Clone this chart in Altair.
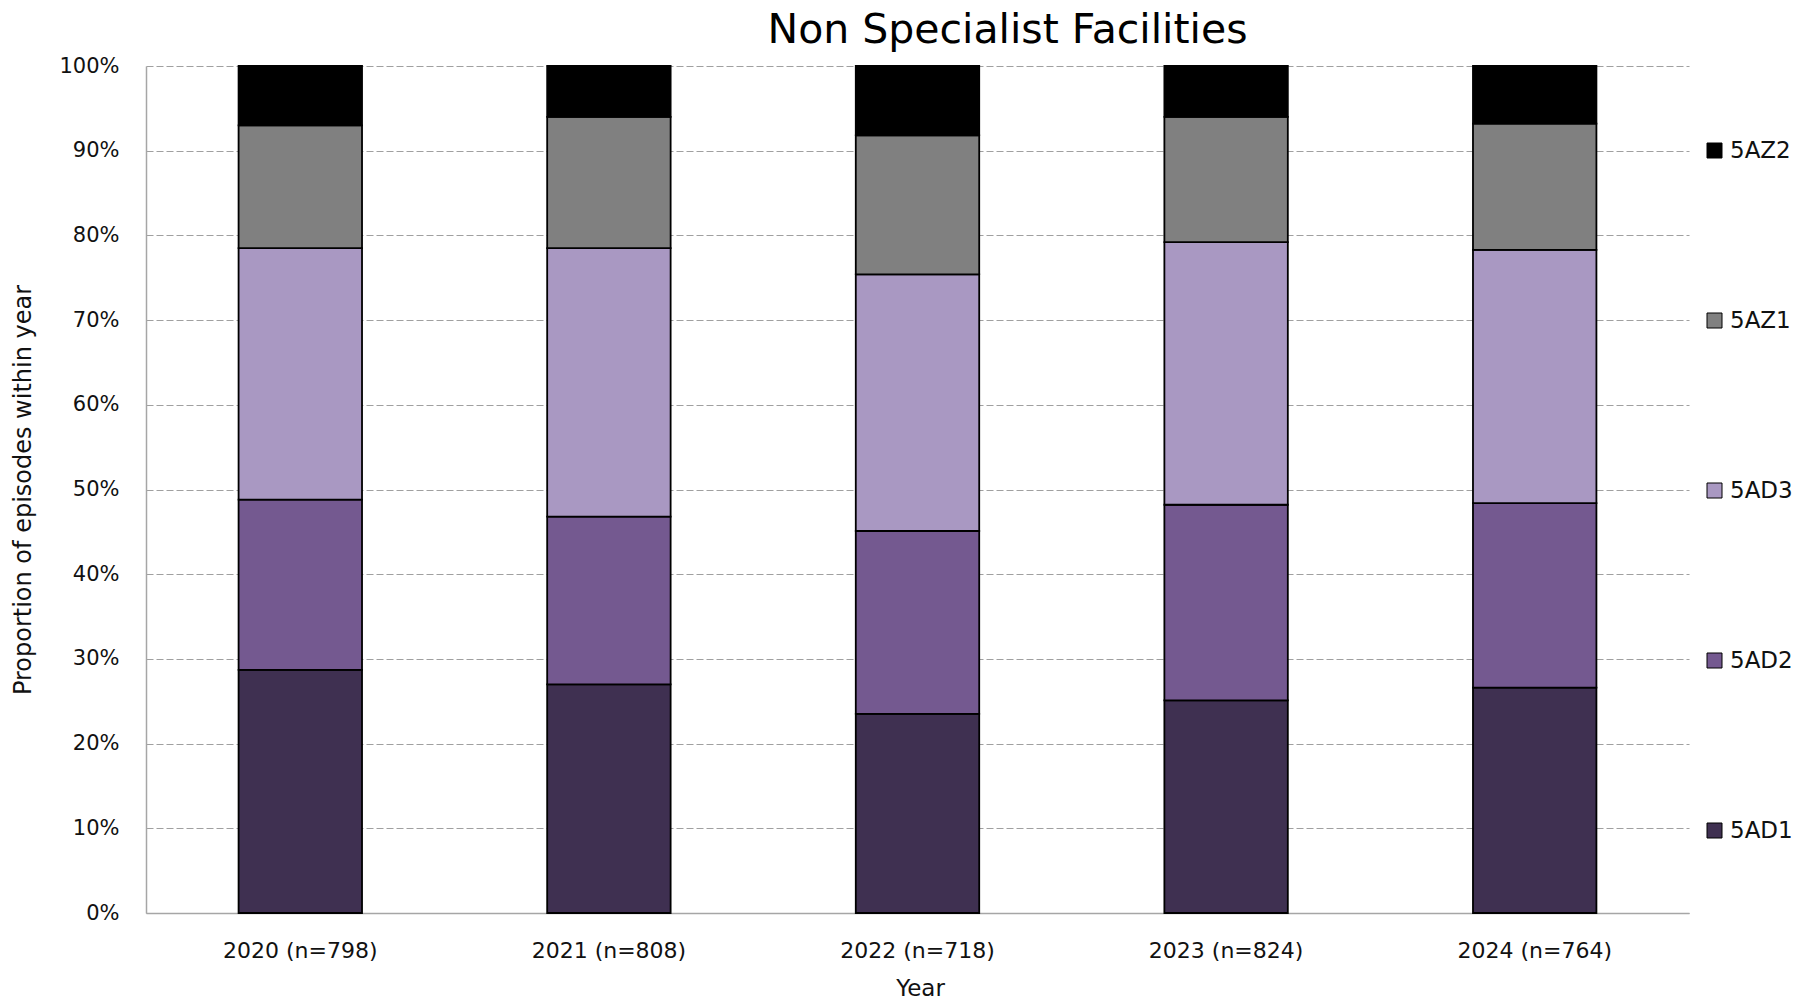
import altair as alt
import pandas as pd

years = ["2020 (n=798)", "2021 (n=808)", "2022 (n=718)", "2023 (n=824)", "2024 (n=764)"]
categories = ["5AD1", "5AD2", "5AD3", "5AZ1", "5AZ2"]
# proportion (%) of episodes within each year, per category (bottom to top)
ad1 = [28.7, 27.0, 23.5, 25.1, 26.6]
ad2 = [20.1, 19.8, 21.6, 23.1, 21.8]
ad3 = [29.7, 31.7, 30.3, 31.0, 29.9]
az1 = [14.5, 15.5, 16.4, 14.8, 14.9]
az2 = [7.0, 6.0, 8.2, 6.0, 6.8]
colors = ["#3F3051", "#745990", "#A998C2", "#808080", "#000000"]

series = {"5AD1": ad1, "5AD2": ad2, "5AD3": ad3, "5AZ1": az1, "5AZ2": az2}
rows = []
for ci, cat in enumerate(categories):
    for yi, yr in enumerate(years):
        rows.append({"Year": yr, "Category": cat, "Value": series[cat][yi] / 100.0, "ord": ci})
df = pd.DataFrame(rows)

FONT = "DejaVu Sans"
legend_order = list(reversed(categories))
legend_colors = list(reversed(colors))

chart = alt.Chart(df).mark_bar(stroke="#000000", strokeWidth=1.8).encode(
    x=alt.X("Year:N", sort=years,
            scale=alt.Scale(paddingInner=0.6, paddingOuter=0.3),
            axis=alt.Axis(title="Year", labelAngle=0, tickSize=0, labelPadding=37,
                          labelBaseline="middle", labelFontSize=22, labelFont=FONT,
                          labelColor="#111111", titleFont=FONT, titleFontSize=23,
                          titleFontWeight="normal", titleColor="#111111",
                          titleX=774, titleY=75, titleBaseline="middle", titleAlign="center",
                          domainColor="#A6A6A6", domainWidth=1.5, grid=False)),
    y=alt.Y("Value:Q", stack="zero",
            scale=alt.Scale(domain=[0, 1], nice=False),
            axis=alt.Axis(title="Proportion of episodes within year", format=".0%",
                          values=[i / 10 for i in range(11)], tickSize=0, labelPadding=27,
                          labelFontSize=21, labelFont=FONT, labelColor="#111111",
                          titleFont=FONT, titleFontSize=24, titleFontWeight="normal",
                          titleColor="#111111", titleAngle=-90, titleX=-123, titleY=423.5,
                          titleBaseline="middle", titleAlign="center",
                          domainColor="#A6A6A6", domainWidth=1.5,
                          grid=True, gridColor="#A0A0A0", gridDash=[7, 3], gridWidth=1.2)),
    color=alt.Color("Category:N",
                    scale=alt.Scale(domain=legend_order, range=legend_colors),
                    legend=alt.Legend(title=None, orient="none", legendX=1557, legendY=73,
                                      symbolType="square", symbolSize=225,
                                      symbolStrokeColor="#000000", symbolStrokeWidth=1,
                                      symbolOpacity=1, labelFontSize=23, labelFont=FONT,
                                      labelColor="#111111", labelOffset=4, rowPadding=146,
                                      padding=0)),
    order=alt.Order("ord:Q", sort="ascending"),
).properties(
    width=1543,
    height=847,
    title=alt.TitleParams("Non Specialist Facilities", font=FONT, fontSize=41,
                          fontWeight="normal", color="#000000", anchor="middle",
                          dx=90, offset=3),
    autosize=alt.AutoSizeParams(type="none"),
    padding={"left": 138, "top": 58, "right": 115, "bottom": 86},
).configure_view(stroke=None)

chart.save("out.html", embed_options={"renderer": "svg", "actions": False})
